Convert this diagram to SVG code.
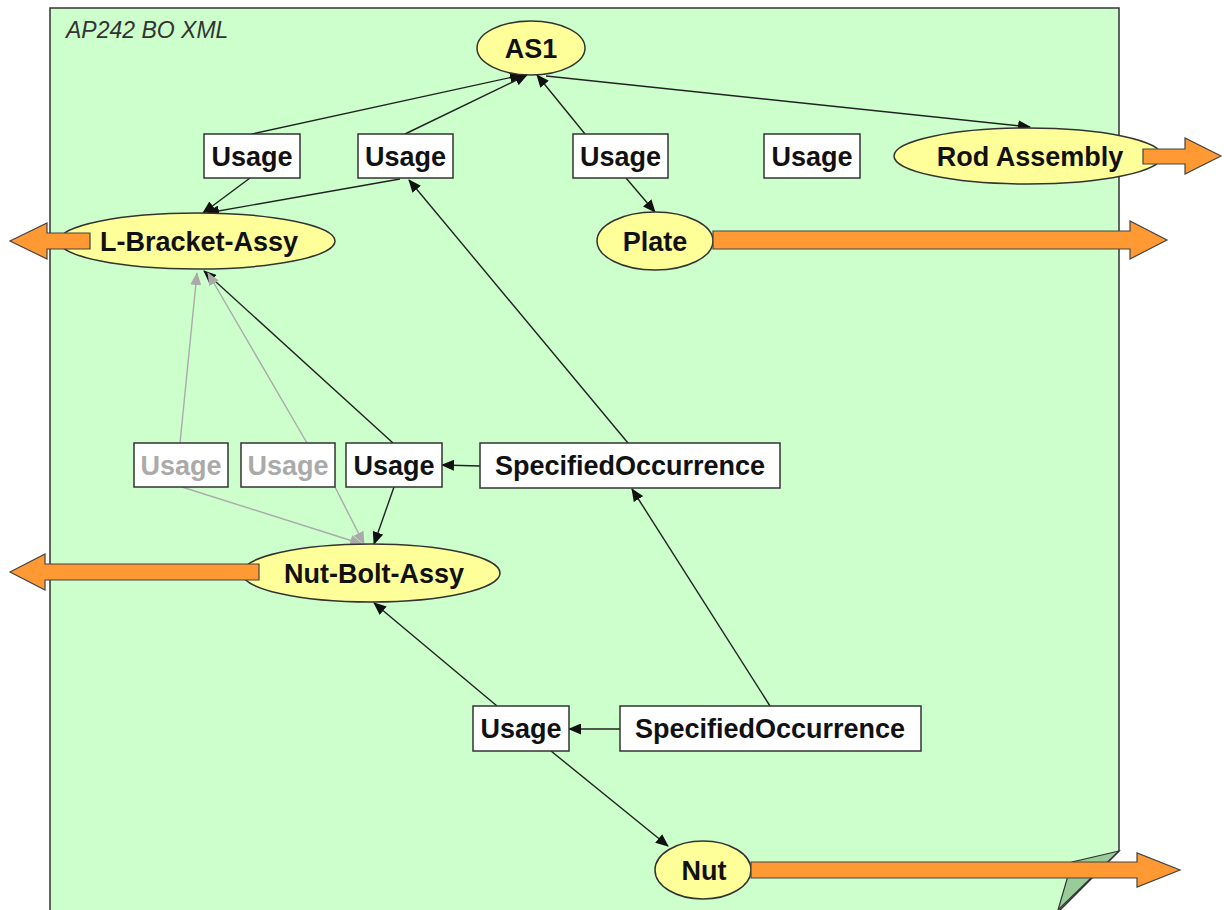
<svg xmlns="http://www.w3.org/2000/svg" width="1224" height="910" viewBox="0 0 1224 910">
<style>
.box{fill:#ffffff;stroke:#333333;stroke-width:1.5}
.ell{fill:#ffff99;stroke:#333333;stroke-width:1.5}
.lbl{font-family:"Liberation Sans",Arial,sans-serif;font-weight:bold;font-size:27px;fill:#111111;text-anchor:middle}
.gray{fill:#aaaaaa}
.ln{stroke:#222222;stroke-width:1.4;fill:none;marker-end:url(#ah)}
.lg{stroke:#aaaaaa;stroke-width:1.4;fill:none;marker-end:url(#ahg)}
.oa{fill:#ff9933;stroke:#444444;stroke-width:1.2}
</style>
<defs>
<marker id="ah" markerUnits="userSpaceOnUse" markerWidth="13" markerHeight="11" refX="12" refY="5.5" orient="auto">
<path d="M0,0 L13,5.5 L0,11 z" fill="#111111"/>
</marker>
<marker id="ahg" markerUnits="userSpaceOnUse" markerWidth="13" markerHeight="11" refX="12" refY="5.5" orient="auto">
<path d="M0,0 L13,5.5 L0,11 z" fill="#aaaaaa"/>
</marker>
</defs>
<rect width="1224" height="910" fill="#ffffff"/>
<g id="page">
<polygon points="50,8 1119,8 1119,851 1058,912 50,912" fill="#ccffcc" stroke="#333333" stroke-width="1.5"/>
<polygon points="1119,851 1072,862 1058,910" fill="#99cc99" stroke="#333333" stroke-width="1.2"/>
<text x="66" y="38" font-family="'Liberation Sans',Arial,sans-serif" font-style="italic" font-size="23" fill="#333333">AP242 BO XML</text>
</g>
<g id="connectors">
<path class="ln" d="M252,134 L522,75"/>
<path class="ln" d="M405,134 L527,75"/>
<path class="ln" d="M585,134 L537,75"/>
<path class="ln" d="M546,76 L1030,127"/>
<path class="ln" d="M250,178 L203,213"/>
<path class="ln" d="M400,179 L207,213"/>
<path class="ln" d="M626,178 L655,212"/>
<path class="ln" d="M628,443 L409,180"/>
<path class="ln" d="M393,443 L204,271"/>
<path class="lg" d="M180,443 L197,273"/>
<path class="lg" d="M307,443 L208,273"/>
<path class="lg" d="M182,487 L362,544"/>
<path class="lg" d="M335,487 L364,544"/>
<path class="ln" d="M394,487 L374,544"/>
<path class="ln" d="M480,466 L442,465"/>
<path class="ln" d="M497,706 L374,603"/>
<path class="ln" d="M620,729 L569,729"/>
<path class="ln" d="M770,706 L632,489"/>
<path class="ln" d="M551,751 L668,846"/>
</g>
<g id="AS1"><ellipse class="ell" cx="531" cy="48" rx="54" ry="27"/><text class="lbl" x="531" y="58">AS1</text></g>
<g id="usage1"><rect class="box" x="204" y="134" width="96" height="44"/><text class="lbl" x="252" y="166">Usage</text></g>
<g id="usage2"><rect class="box" x="358" y="134" width="95" height="44"/><text class="lbl" x="405.5" y="166">Usage</text></g>
<g id="usage3"><rect class="box" x="573" y="134" width="95" height="44"/><text class="lbl" x="620.5" y="166">Usage</text></g>
<g id="usage4"><rect class="box" x="764" y="134" width="96" height="44"/><text class="lbl" x="812" y="166">Usage</text></g>
<g id="rod-assembly"><ellipse class="ell" cx="1028" cy="156" rx="134" ry="28"/><text class="lbl" x="1030" y="166">Rod Assembly</text><polygon class="oa" points="1143,149 1185,149 1185,138 1221,156 1185,174 1185,164 1143,164"/></g>
<g id="plate"><ellipse class="ell" cx="655" cy="241" rx="58" ry="29"/><text class="lbl" x="655" y="251">Plate</text><polygon class="oa" points="713,231 1130,231 1130,221 1167,240 1130,259 1130,249 713,249"/></g>
<g id="l-bracket-assy"><ellipse class="ell" cx="197" cy="241" rx="138" ry="28"/><text class="lbl" x="199" y="251">L-Bracket-Assy</text><polygon class="oa" points="90,233 47,233 47,223 10,241 47,259 47,249 90,249"/></g>
<g id="usage-g1"><rect class="box" x="134" y="443" width="94" height="44"/><text class="lbl gray" x="181" y="475">Usage</text></g>
<g id="usage-g2"><rect class="box" x="241" y="443" width="94" height="44"/><text class="lbl gray" x="288" y="475">Usage</text></g>
<g id="usage-mid"><rect class="box" x="346" y="443" width="96" height="44"/><text class="lbl" x="394" y="475">Usage</text></g>
<g id="specocc1"><rect class="box" x="480" y="443" width="300" height="45"/><text class="lbl" x="630" y="475">SpecifiedOccurrence</text></g>
<g id="nut-bolt-assy"><ellipse class="ell" cx="371" cy="573" rx="129" ry="29"/><text class="lbl" x="374" y="583">Nut-Bolt-Assy</text><polygon class="oa" points="259,564 45,564 45,554 10,572 45,590 45,580 259,580"/></g>
<g id="usage-bottom"><rect class="box" x="473" y="706" width="96" height="45"/><text class="lbl" x="521" y="738">Usage</text></g>
<g id="specocc2"><rect class="box" x="620" y="706" width="301" height="45"/><text class="lbl" x="770" y="738">SpecifiedOccurrence</text></g>
<g id="nut"><ellipse class="ell" cx="703" cy="870" rx="48" ry="29"/><text class="lbl" x="704" y="880">Nut</text><polygon class="oa" points="751,862 1137,862 1137,853 1180,870 1137,887 1137,878 751,878"/></g>
</svg>
